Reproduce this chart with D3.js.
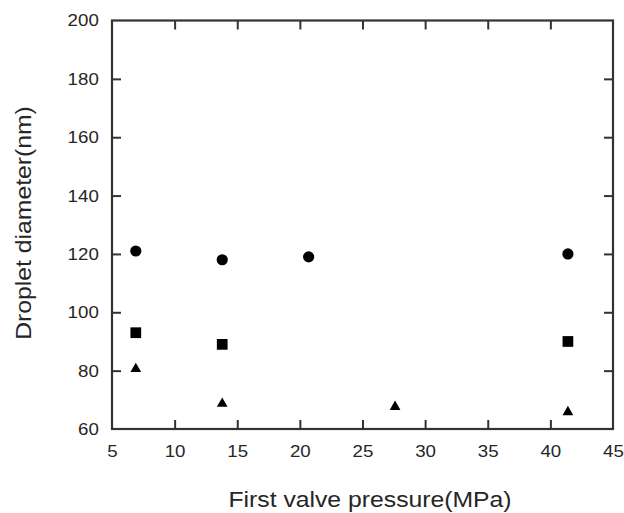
<!DOCTYPE html>
<html>
<head>
<meta charset="utf-8">
<script src="https://cdn.jsdelivr.net/npm/d3@7"></script>
<style>
  body { margin: 0; background: #fff; }
  text { font-family: "Liberation Sans", Arial, sans-serif; fill: #262626; }
</style>
</head>
<body>
<svg id="chart" width="624" height="513"></svg>
<script>
// pressures in MPa (1000..6000 psi)
const circleX = [6.9, 13.8, 20.7, 41.4];
const circleY = [121, 118, 119, 120];
const squareX = [6.9, 13.8, 41.4];
const squareY = [93, 89, 90];
const triX = [6.9, 13.8, 27.6, 41.4];
const triY = [80.6, 68.7, 67.6, 65.8];
const xTicks = [5, 10, 15, 20, 25, 30, 35, 40, 45];
const yTicks = [60, 80, 100, 120, 140, 160, 180, 200];

const svg = d3.select("#chart");
const margin = {top: 20.5, right: 11, bottom: 84, left: 112};
const width = 624 - margin.left - margin.right;
const height = 513 - margin.top - margin.bottom;

const g = svg.append("g").attr("transform", `translate(${margin.left},${margin.top})`);

const x = d3.scaleLinear().domain([5, 45]).range([0, width]);
const y = d3.scaleLinear().domain([60, 200]).range([height, 0]);

const tickLen = 9;
const stretch = 1.1; // the original lettering is a bit wide
// inner ticks on all four sides
const xAxisB = d3.axisBottom(x).tickValues(xTicks).tickSizeInner(-tickLen).tickSizeOuter(0).tickPadding(16);
const xAxisT = d3.axisTop(x).tickValues(xTicks).tickSizeInner(-tickLen).tickSizeOuter(0).tickFormat("");
const yAxisL = d3.axisLeft(y).tickValues(yTicks).tickSizeInner(-tickLen).tickSizeOuter(0).tickPadding(12);
const yAxisR = d3.axisRight(y).tickValues(yTicks).tickSizeInner(-tickLen).tickSizeOuter(0).tickFormat("");

function style(sel) {
  sel.select(".domain").remove();
  sel.selectAll(".tick line").attr("stroke", "#333").attr("stroke-width", 2);
  sel.selectAll(".tick text").attr("font-size", 17).attr("fill", "#262626")
    .attr("transform", `scale(${stretch},1)`);
}

g.append("g").attr("transform", `translate(0,${height})`).call(xAxisB).call(style);
g.append("g").call(xAxisT).call(style);
g.append("g").call(yAxisL).call(style);
g.append("g").attr("transform", `translate(${width},0)`).call(yAxisR).call(style);

// hide the end ticks that sit on the frame
g.selectAll(".tick").filter(d => d === 5 || d === 45 || d === 60 || d === 200)
  .select("line").remove();

g.append("rect")
  .attr("width", width).attr("height", height)
  .attr("fill", "none").attr("stroke", "#333").attr("stroke-width", 2.2);

// markers
g.selectAll("circle.pt")
  .data(circleX.map((d, i) => [d, circleY[i]]))
  .enter().append("circle")
  .attr("class", "pt")
  .attr("cx", d => x(d[0])).attr("cy", d => y(d[1]))
  .attr("r", 5.6).attr("fill", "#000");

g.selectAll("path.sq")
  .data(squareX.map((d, i) => [d, squareY[i]]))
  .enter().append("path")
  .attr("class", "sq")
  .attr("d", d3.symbol().type(d3.symbolSquare).size(115))
  .attr("transform", d => `translate(${x(d[0])},${y(d[1])})`)
  .attr("fill", "#000");

g.selectAll("path.tri")
  .data(triX.map((d, i) => [d, triY[i]]))
  .enter().append("path")
  .attr("class", "tri")
  .attr("d", d3.symbol().type(d3.symbolTriangle).size(50))
  .attr("transform", d => `translate(${x(d[0])},${y(d[1])})`)
  .attr("fill", "#000");

// axis titles
svg.append("text")
  .attr("transform", `translate(370,507) scale(${stretch},1)`)
  .attr("text-anchor", "middle").attr("font-size", 22.5)
  .text("First valve pressure(MPa)");

svg.append("text")
  .attr("transform", `translate(31,223) rotate(-90) scale(${stretch},1)`)
  .attr("text-anchor", "middle").attr("font-size", 22.5)
  .text("Droplet diameter(nm)");
</script>
</body>
</html>
